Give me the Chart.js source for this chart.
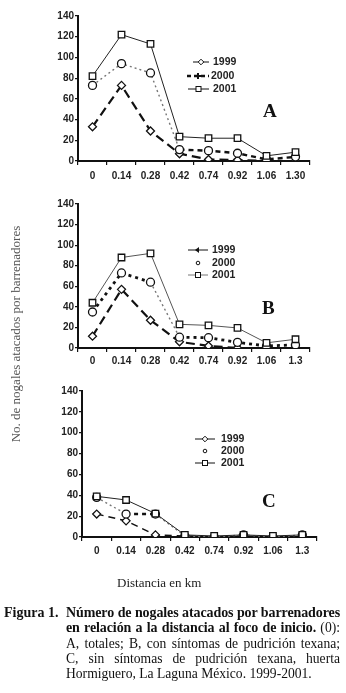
<!DOCTYPE html>
<html>
<head>
<meta charset="utf-8">
<script src="https://cdn.jsdelivr.net/npm/chart.js@4/dist/chart.umd.min.js"></script>
<style>
  html, body { margin: 0; padding: 0; background: #fff; }
  body { width: 346px; height: 693px; position: relative; overflow: hidden; }
  .cv { position: absolute; left: 0; }
  .panel { position: absolute; font-family: "Liberation Serif", "Times New Roman", serif; font-weight: bold; font-size: 19px; color: #111; }
  #ytitle { position: absolute; width: 260px; left: -114px; top: 326px; text-align: center; transform: rotate(-90deg);
            font-family: "Liberation Serif", serif; font-size: 13px; color: #555; white-space: nowrap; }
  #xtitle { position: absolute; left: 117px; top: 575px; font-family: "Liberation Serif", serif; font-size: 13px; color: #222; white-space: nowrap; }
  #cap { position: absolute; left: 0; top: 605px; font-family: "Liberation Serif", serif; font-size: 13.6px; color: #111; line-height: 15.3px; }
  #cap .fig { position: absolute; left: 4px; top: 0; font-weight: bold; font-size: 14px; white-space: nowrap; }
  #cap .l { position: relative; left: 66px; width: 274px; white-space: nowrap; }
  #cap .j { text-align: justify; text-align-last: justify; }
  #cap .b { font-weight: bold; letter-spacing: -0.1px; font-size: 14px; }
</style>
</head>
<body>
<canvas id="cA" class="cv" style="top:0px" width="346" height="190"></canvas>
<canvas id="cB" class="cv" style="top:190px" width="346" height="190"></canvas>
<canvas id="cC" class="cv" style="top:380px" width="346" height="200"></canvas>

<div class="panel" style="left:263px; top:100px;">A</div>
<div class="panel" style="left:262px; top:297px;">B</div>
<div class="panel" style="left:262px; top:490px;">C</div>

<div id="ytitle">No. de nogales atacados por barrenadores</div>
<div id="xtitle">Distancia en km</div>

<div id="cap">
  <div class="fig">Figura 1.</div>
  <div class="l j b">Número de nogales atacados por barrenadores</div>
  <div class="l j"><b style="letter-spacing:-0.1px; font-size:14px">en relación a la distancia al foco de inicio.</b> (0):</div>
  <div class="l j">A, totales; B, con síntomas de pudrición texana;</div>
  <div class="l j">C, sin síntomas de pudrición texana, huerta</div>
  <div class="l">Hormiguero, La Laguna México. 1999-2001.</div>
</div>

<script>
// ---------------- DATA ----------------
const distancesA = ['0', '0.14', '0.28', '0.42', '0.74', '0.92', '1.06', '1.30'];
const distancesBC = ['0', '0.14', '0.28', '0.42', '0.74', '0.92', '1.06', '1.3'];
const yTicks = [0, 20, 40, 60, 80, 100, 120, 140];
const years = ['1999', '2000', '2001'];

// A: totales
const a1999 = [33, 73, 29, 7, 1.5, 1, 0, 0];
const a2000 = [73, 94, 85, 11, 10, 7.5, 1.5, 4];
const a2001 = [82, 122, 113, 23.5, 22, 22, 5, 8.5];
// B: con síntomas de pudrición texana
const b1999 = [11.5, 57, 27, 6, 2, 0, 0, 0];
const b2000 = [35, 73, 64, 10.5, 10, 5.5, 2, 3];
const b2001 = [44, 88, 92, 23, 22, 19.5, 5, 8.5];
// C: sin síntomas de pudrición texana
const c1999 = [22, 15.5, 2, 1, 0, 1, 0, 0];
const c2000 = [38, 22, 22, 1, 0, 2, 0, 2];
const c2001 = [39, 35.5, 22.5, 2, 1, 2, 1, 2];

// ---------------- CHARTS ----------------
const tickFont = { family: 'Arial, "Liberation Sans", sans-serif', size: 10, weight: 'bold' };

function legendPlugin(entries) {
  return {
    id: 'customLegend',
    afterDraw(chart) {
      const ctx = chart.ctx;
      ctx.save();
      entries.forEach(e => {
        ctx.strokeStyle = e.color || '#111';
        ctx.lineWidth = e.w;
        ctx.setLineDash(e.dash || []);
        if (e.x1 > e.x0) {
          ctx.beginPath();
          ctx.moveTo(e.x0, e.y);
          ctx.lineTo(e.x1, e.y);
          ctx.stroke();
        }
        ctx.setLineDash([]);
        const mx = (e.x0 + e.x1) / 2;
        ctx.lineWidth = 1;
        ctx.strokeStyle = '#111';
        ctx.fillStyle = '#fff';
        if (e.marker === 'square') {
          ctx.fillRect(mx - 2.5, e.y - 2.5, 5, 5);
          ctx.strokeRect(mx - 2.5, e.y - 2.5, 5, 5);
        } else if (e.marker === 'diamond') {
          ctx.beginPath();
          ctx.moveTo(mx, e.y - 2.8); ctx.lineTo(mx + 2.8, e.y); ctx.lineTo(mx, e.y + 2.8); ctx.lineTo(mx - 2.8, e.y); ctx.closePath();
          ctx.fill(); ctx.stroke();
        } else if (e.marker === 'plus') {
          ctx.lineWidth = 2;
          ctx.beginPath();
          ctx.moveTo(mx - 3, e.y); ctx.lineTo(mx + 3, e.y);
          ctx.moveTo(mx, e.y - 3); ctx.lineTo(mx, e.y + 3);
          ctx.stroke();
        } else if (e.marker === 'arrow') {
          ctx.fillStyle = '#111';
          ctx.beginPath();
          ctx.moveTo(mx - 3, e.y); ctx.lineTo(mx + 1, e.y - 3); ctx.lineTo(mx + 1, e.y + 3); ctx.closePath();
          ctx.fill();
        } else if (e.marker === 'dot') {
          ctx.beginPath();
          ctx.arc(mx, e.y, 1.8, 0, Math.PI * 2);
          ctx.fill(); ctx.stroke();
        }
        ctx.fillStyle = '#222';
        ctx.font = 'bold 10.5px Arial, "Liberation Sans", sans-serif';
        ctx.textBaseline = 'middle';
        ctx.textAlign = 'left';
        ctx.fillText(e.label, e.tx, e.y + 0.5);
      });
      ctx.restore();
    }
  };
}

function makeChart(id, labels, d99, d00, d01, geo, styles, legend) {
  const series = [d99, d00, d01];
  const datasets = series.map((d, i) => {
    const s = styles[i];
    return {
      label: years[i],
      data: d,
      borderColor: s.color,
      borderWidth: s.w,
      borderDash: s.dash,
      segment: s.seg ? {
        borderDash: ctx => (s.seg.has(ctx.p0DataIndex) ? s.segDash : s.dash),
        borderWidth: ctx => (s.seg.has(ctx.p0DataIndex) ? s.segW : s.w),
        borderColor: ctx => (s.seg.has(ctx.p0DataIndex) ? '#111' : s.color)
      } : undefined,
      pointStyle: s.pt,
      pointRadius: s.r,
      pointBackgroundColor: '#fff',
      pointBorderColor: '#111',
      pointBorderWidth: 1.3,
      fill: false,
      tension: 0,
      order: 3 - i
    };
  });
  return new Chart(document.getElementById(id), {
    type: 'line',
    data: { labels: labels, datasets: datasets },
    options: {
      responsive: false,
      animation: false,
      devicePixelRatio: 1,
      layout: { padding: { top: geo.top, right: geo.right, left: 0, bottom: 0 } },
      plugins: { legend: { display: false }, tooltip: { enabled: false } },
      scales: {
        x: {
          type: 'category',
          offset: true,
          grid: { offset: true, drawOnChartArea: false, drawTicks: true, tickLength: 4, color: '#111', lineWidth: 1.2 },
          border: { display: true, color: '#111', width: 2 },
          ticks: { color: '#222', font: tickFont, padding: geo.xpad, maxRotation: 0, autoSkip: false },
          afterFit: s => { s.height = geo.xh; }
        },
        y: {
          min: 0, max: 140,
          afterBuildTicks: s => { s.ticks = yTicks.map(v => ({ value: v })); },
          grid: { drawOnChartArea: false, drawTicks: true, tickLength: 3, color: '#111', lineWidth: 1.2 },
          border: { display: true, color: '#111', width: 2 },
          ticks: { color: '#222', font: tickFont, padding: 1 },
          afterFit: s => { s.width = geo.yw; }
        }
      }
    },
    plugins: [legendPlugin(legend)]
  });
}

const DIA = 'rectRot', CIR = 'circle', SQ = 'rect';

makeChart('cA', distancesA, a1999, a2000, a2001,
  { top: 16, right: 36, xh: 29, yw: 78, xpad: 5 },
  [
    { color: '#111', w: 2.2, dash: [9, 5], pt: DIA, r: 4 },
    { color: '#777', w: 1.4, dash: [2, 3], pt: CIR, r: 4, seg: new Set([3, 4, 5, 6]), segDash: [5, 4], segW: 2.4 },
    { color: '#222', w: 1, dash: [], pt: SQ, r: 4.6 }
  ],
  [
    { label: '1999', x0: 193, x1: 209, y: 62, tx: 213, w: 1, marker: 'diamond' },
    { label: '2000', x0: 187, x1: 209, y: 76, tx: 211, w: 2.4, dash: [4, 3], marker: 'plus' },
    { label: '2001', x0: 188, x1: 209, y: 89, tx: 213, w: 1, marker: 'square' }
  ]);

makeChart('cB', distancesBC, b1999, b2000, b2001,
  { top: 14, right: 36, xh: 32, yw: 78, xpad: 3 },
  [
    { color: '#111', w: 2.2, dash: [9, 5], pt: DIA, r: 4 },
    { color: '#777', w: 1.4, dash: [2, 3], pt: CIR, r: 4, seg: new Set([0, 1, 3, 4, 5, 6]), segDash: [3, 4], segW: 2.8 },
    { color: '#555', w: 1, dash: [], pt: SQ, r: 4.6 }
  ],
  [
    { label: '1999', x0: 188, x1: 208, y: 250, tx: 212, w: 1, marker: 'arrow' },
    { label: '2000', x0: 198, x1: 198, y: 263, tx: 212, w: 1, marker: 'dot' },
    { label: '2001', x0: 188, x1: 208, y: 275, tx: 212, w: 1, color: '#777', marker: 'square' }
  ].map(e => Object.assign(e, { y: e.y - 190 })));

makeChart('cC', distancesBC, c1999, c2000, c2001,
  { top: 11, right: 29, xh: 43, yw: 82, xpad: 4 },
  [
    { color: '#111', w: 1.5, dash: [7, 5], pt: DIA, r: 4 },
    { color: '#777', w: 1.4, dash: [2, 3], pt: CIR, r: 4, seg: new Set([1]), segDash: [4, 4], segW: 2.4 },
    { color: '#222', w: 1, dash: [], pt: SQ, r: 4.6 }
  ],
  [
    { label: '1999', x0: 195, x1: 215, y: 439, tx: 221, w: 1, marker: 'diamond' },
    { label: '2000', x0: 205, x1: 205, y: 451, tx: 221, w: 1, marker: 'dot' },
    { label: '2001', x0: 195, x1: 215, y: 463, tx: 221, w: 1, marker: 'square' }
  ].map(e => Object.assign(e, { y: e.y - 380 })));
</script>
</body>
</html>
